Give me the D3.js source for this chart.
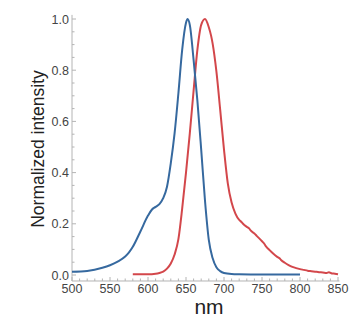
<!DOCTYPE html>
<html>
<head>
<meta charset="utf-8">
<script src="https://cdn.jsdelivr.net/npm/d3@7"></script>
<style>
  html, body { margin: 0; padding: 0; background: #fff; }
  svg { display: block; }
</style>
</head>
<body>
<svg id="chart" width="364" height="325"></svg>
<script>
// ---- data ----
const xTicks = [500, 550, 600, 650, 700, 750, 800, 850];
const yTicks = [0.0, 0.2, 0.4, 0.6, 0.8, 1.0];

const blueNm = [500, 520, 540, 550, 560, 570, 575, 580, 590, 600, 605, 610, 615, 620, 625, 630, 635, 640, 645, 650, 652, 655, 660, 665, 670, 675, 680, 685, 690, 695, 700, 710, 720, 750, 800];
const blueVal = [0.013, 0.016, 0.028, 0.038, 0.052, 0.072, 0.088, 0.11, 0.17, 0.232, 0.255, 0.266, 0.277, 0.3, 0.345, 0.437, 0.554, 0.71, 0.88, 0.985, 1.0, 0.977, 0.84, 0.68, 0.49, 0.29, 0.137, 0.066, 0.03, 0.015, 0.008, 0.004, 0.003, 0.002, 0.002];

const redNm = [580, 590, 600, 610, 615, 620, 625, 630, 635, 640, 645, 650, 655, 660, 665, 670, 675, 680, 683, 685, 690, 695, 700, 705, 710, 715, 720, 723, 725, 730, 733, 735, 740, 743, 745, 750, 753, 755, 760, 765, 770, 773, 775, 780, 785, 790, 795, 800, 805, 810, 815, 820, 825, 830, 835, 838, 842, 846, 850];
const redVal = [0.003, 0.003, 0.003, 0.005, 0.008, 0.013, 0.025, 0.045, 0.08, 0.14, 0.26, 0.4, 0.553, 0.72, 0.88, 0.977, 1.0, 0.968, 0.935, 0.905, 0.795, 0.645, 0.49, 0.358, 0.283, 0.24, 0.215, 0.207, 0.2, 0.188, 0.182, 0.174, 0.162, 0.153, 0.147, 0.132, 0.122, 0.113, 0.097, 0.083, 0.071, 0.065, 0.059, 0.048, 0.039, 0.032, 0.027, 0.023, 0.02, 0.017, 0.015, 0.013, 0.011, 0.01, 0.008, 0.011, 0.006, 0.005, 0.003];

// ---- layout ----
const svg = d3.select("#chart");
const x = d3.scaleLinear().domain([500, 850]).range([72, 338]);
const y = d3.scaleLinear().domain([0, 1]).range([275, 19]);
const yMin = -0.0234, yMax = 1.016;
const axisColor = "#b4b4b4";
const tickFont = "'Liberation Sans Narrow', 'Arial Narrow', 'Liberation Sans', Arial, sans-serif";

// axes lines
svg.append("line").attr("x1", x(500)).attr("x2", x(500)).attr("y1", y(yMin)).attr("y2", y(yMax))
  .attr("stroke", axisColor).attr("stroke-width", 1);
svg.append("line").attr("x1", x(500)).attr("x2", x(852)).attr("y1", y(yMin)).attr("y2", y(yMin))
  .attr("stroke", axisColor).attr("stroke-width", 1);

// x ticks (inward)
const xMinor = d3.range(500, 851, 10);
svg.selectAll(".xt").data(xMinor).enter().append("line")
  .attr("x1", d => x(d)).attr("x2", d => x(d))
  .attr("y1", y(yMin)).attr("y2", d => y(yMin) - (d % 50 === 0 ? 4 : 2.5))
  .attr("stroke", axisColor).attr("stroke-width", 1);
// y ticks (inward)
const yMinor = d3.range(0, 21).map(i => i * 0.05);
svg.selectAll(".yt").data(yMinor).enter().append("line")
  .attr("x1", x(500)).attr("x2", (d, i) => x(500) + (i % 4 === 0 ? 4 : 2.5))
  .attr("y1", d => y(d)).attr("y2", d => y(d))
  .attr("stroke", axisColor).attr("stroke-width", 1);

// tick labels
svg.selectAll(".xl").data(xTicks).enter().append("text")
  .attr("x", d => x(d)).attr("y", 293)
  .attr("text-anchor", "middle")
  .attr("font-family", tickFont).attr("font-size", "12.5px").attr("fill", "#444")
  .text(d => d);
svg.selectAll(".yl").data(yTicks).enter().append("text")
  .attr("x", 69).attr("y", d => y(d) + 4.5)
  .attr("text-anchor", "end")
  .attr("font-family", tickFont).attr("font-size", "12.5px").attr("fill", "#444")
  .text(d => d3.format(".1f")(d));

// axis titles
svg.append("text").attr("x", 209).attr("y", 314).attr("text-anchor", "middle")
  .attr("font-family", tickFont).attr("font-size", "21px").attr("fill", "#222")
  .text("nm");
svg.append("text").attr("transform", "translate(44,149) rotate(-90)")
  .attr("text-anchor", "middle")
  .attr("font-family", "'Liberation Sans', Arial, sans-serif").attr("font-size", "17.5px").attr("fill", "#222")
  .text("Normalized intensity");

// lines
const blue = blueNm.map((d, i) => [d, blueVal[i]]);
const red = redNm.map((d, i) => [d, redVal[i]]);
const lineSmooth = d3.line().x(d => x(d[0])).y(d => y(d[1])).curve(d3.curveMonotoneX);

svg.append("path").attr("d", lineSmooth(red)).attr("fill", "none")
  .attr("stroke", "#d3474b").attr("stroke-width", 2).attr("stroke-linejoin", "round");
svg.append("path").attr("d", lineSmooth(blue)).attr("fill", "none")
  .attr("stroke", "#36699f").attr("stroke-width", 2).attr("stroke-linejoin", "round");
</script>
</body>
</html>
